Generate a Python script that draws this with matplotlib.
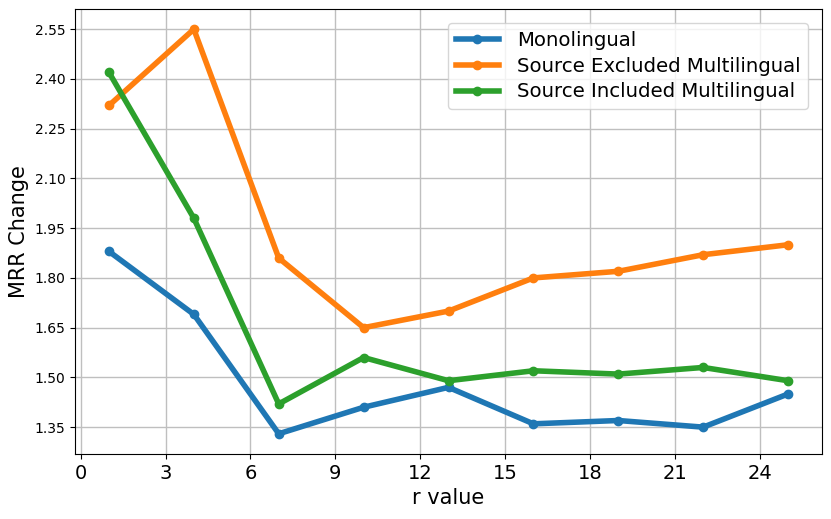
import matplotlib
matplotlib.use("Agg")
import matplotlib.pyplot as plt

r_values = [1, 4, 7, 10, 13, 16, 19, 22, 25]
mono = [1.88, 1.69, 1.33, 1.41, 1.47, 1.36, 1.37, 1.35, 1.45]
src_excluded = [2.32, 2.55, 1.86, 1.65, 1.70, 1.80, 1.82, 1.87, 1.90]
src_included = [2.42, 1.98, 1.42, 1.56, 1.49, 1.52, 1.51, 1.53, 1.49]

x_ticks = [0, 3, 6, 9, 12, 15, 18, 21, 24]
y_ticks = [1.35, 1.50, 1.65, 1.80, 1.95, 2.10, 2.25, 2.40, 2.55]

fig = plt.figure(figsize=(8.31, 5.19), dpi=100)
ax = fig.add_axes([75 / 831, 65 / 519, 747 / 831, 445 / 519])

ax.plot(r_values, mono, "-o", color="#1f77b4", lw=4, ms=6, label="Monolingual")
ax.plot(r_values, src_excluded, "-o", color="#ff7f0e", lw=4, ms=6,
        label="Source Excluded Multilingual")
ax.plot(r_values, src_included, "-o", color="#2ca02c", lw=4, ms=6,
        label="Source Included Multilingual")

ax.set_xticks(x_ticks)
ax.set_yticks(y_ticks)
ax.set_yticklabels([f"{v:.2f}" for v in y_ticks])
ax.tick_params(axis="x", labelsize=14)
ax.tick_params(axis="y", labelsize=10)
ax.grid(True, color="0.75", lw=1)
ax.set_xlabel("r value", fontsize=15)
ax.set_ylabel("MRR Change", fontsize=15)
ax.legend(loc="upper right", fontsize=14.2, handlelength=2.2,
          handletextpad=0.9, labelspacing=0.35, borderaxespad=0.7)

fig.savefig("out.png", dpi=100)
